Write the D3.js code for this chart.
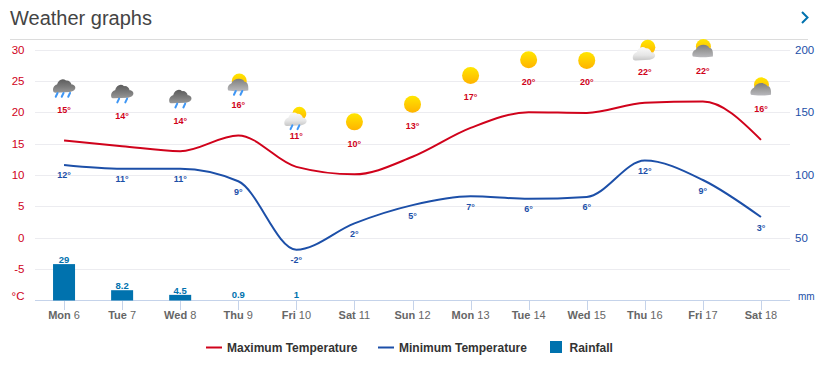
<!DOCTYPE html>
<html><head><meta charset="utf-8">
<script src="https://cdn.jsdelivr.net/npm/d3@7/dist/d3.min.js"></script>
<style>
html,body{margin:0;padding:0;background:#fff}
svg{display:block}
text{font-family:"Liberation Sans",Arial,sans-serif}
</style></head><body><svg id="c" width="826" height="377"></svg>
<script>
const days = ["Mon 6","Tue 7","Wed 8","Thu 9","Fri 10","Sat 11","Sun 12","Mon 13","Tue 14","Wed 15","Thu 16","Fri 17","Sat 18"];
const maxTemp = [15.5,14.6,13.8,16.3,11.3,10.1,12.9,17.5,20.0,19.9,21.5,21.7,15.6];
const minTemp = [11.6,11.0,11.0,9.0,-1.9,2.3,5.2,6.6,6.2,6.5,12.3,9.2,3.3];
const maxLabels = ["15°","14°","14°","16°","11°","10°","13°","17°","20°","20°","22°","22°","16°"];
const minLabels = ["12°","11°","11°","9°","-2°","2°","5°","7°","6°","6°","12°","9°","3°"];
const rain = [29,8.2,4.5,0.9,1,null,null,null,null,null,null,null,null];
const rainLabels = ["29","8.2","4.5","0.9","1","","","","","","","",""];
const icons = ["rain3","rain2","rain2","sunrainDark","sunrainLight","sun","sun","sun","sun","sun","sunLight","sunDark","sunDark"];
const tempTicks = [30,25,20,15,10,5,0,-5];
const rainTicks = [200,150,100,50];

const svg = d3.select("#c");
const x = d3.scaleBand().domain(days).range([35,790]);
const cx = d => x(d)+x.bandwidth()/2;
const y = d3.scaleLinear().domain([-10,30]).range([300.5,49.5]);
const yR = d3.scaleLinear().domain([0,200]).range([300.5,49.5]);
const RED="#d0021b", BLUE="#1c4fa8", BAR="#0072ae";

// header
svg.append("text").attr("x",10).attr("y",24.5).attr("font-size",20).attr("fill","#444").text("Weather graphs");
svg.append("line").attr("x1",10).attr("x2",808).attr("y1",39.5).attr("y2",39.5).attr("stroke","#dcdcdc");
svg.append("path").attr("d","M802 12 L807.5 17.5 L802 23").attr("fill","none").attr("stroke",BAR).attr("stroke-width",2);

// gridlines
svg.append("g").selectAll("line").data(tempTicks).join("line")
  .attr("x1",35).attr("x2",790).attr("y1",d=>Math.round(y(d))+.5).attr("y2",d=>Math.round(y(d))+.5)
  .attr("stroke","#ececf0");
svg.append("line").attr("x1",35).attr("x2",790).attr("y1",300.5).attr("y2",300.5).attr("stroke","#c5d3ea");
svg.append("g").selectAll("line").data(days).join("line")
  .attr("x1",d=>Math.round(cx(d))+.5).attr("x2",d=>Math.round(cx(d))+.5).attr("y1",300.5).attr("y2",310)
  .attr("stroke","#c5d3ea");

// axis labels
svg.append("g").selectAll("text").data(tempTicks).join("text")
  .attr("x",24.5).attr("y",d=>y(d)+4).attr("text-anchor","end").attr("font-size",11.5).attr("fill",RED).text(d=>d);
svg.append("text").attr("x",24.5).attr("y",300).attr("text-anchor","end").attr("font-size",11.5).attr("fill",RED).text("°C");
svg.append("g").selectAll("text").data(rainTicks).join("text")
  .attr("x",795).attr("y",d=>yR(d)+4).attr("font-size",11.5).attr("fill",BLUE).text(d=>d);
svg.append("text").attr("x",798).attr("y",299.5).attr("font-size",10).attr("fill",BLUE).text("mm");

const tl = svg.append("g").selectAll("text").data(days).join("text")
  .attr("x",d=>cx(d)).attr("y",319).attr("text-anchor","middle").attr("font-size",11).attr("fill","#666");
tl.append("tspan").attr("font-weight","bold").text(d=>d.split(" ")[0]);
tl.append("tspan").text(d=>" "+d.split(" ")[1]);

// bars (amounts under 2 mm show only as a label in the reference)
const idx = days.map((d,i)=>i);
svg.append("g").selectAll("rect").data(idx.filter(i=>rain[i]!==null && rain[i]>=2)).join("rect")
  .attr("x",i=>cx(days[i])-11).attr("width",22)
  .attr("y",i=>yR(rain[i])).attr("height",i=>300.5-yR(rain[i])).attr("fill",BAR);
svg.append("g").selectAll("text").data(idx.filter(i=>rain[i]!==null)).join("text")
  .attr("x",i=>cx(days[i])).attr("y",i=>yR(rain[i])-1).attr("text-anchor","middle")
  .attr("font-size",9.5).attr("font-weight","bold").attr("fill",BAR).text(i=>rainLabels[i]);

// lines
const line = d3.line().x((d,i)=>cx(days[i])).y(d=>y(d)).curve(d3.curveMonotoneX);
svg.append("path").datum(minTemp).attr("d",line).attr("fill","none").attr("stroke",BLUE).attr("stroke-width",2);
svg.append("path").datum(maxTemp).attr("d",line).attr("fill","none").attr("stroke",RED).attr("stroke-width",2);

// labels
svg.append("g").selectAll("text").data(idx).join("text")
  .attr("x",i=>cx(days[i])).attr("y",i=>y(minTemp[i])+13.5).attr("text-anchor","middle")
  .attr("font-size",9).attr("font-weight","bold").attr("fill",BLUE).text(i=>minLabels[i]);
svg.append("g").selectAll("text").data(idx).join("text")
  .attr("x",i=>cx(days[i])).attr("y",i=>y(maxTemp[i])-27.5).attr("text-anchor","middle")
  .attr("font-size",9).attr("font-weight","bold").attr("fill",RED).text(i=>maxLabels[i]);

// icon defs
const defs = svg.append("defs");
function grad(id,stops){const g=defs.append("linearGradient").attr("id",id).attr("x1",0).attr("x2",0).attr("y1",0).attr("y2",1);
  stops.forEach(s=>g.append("stop").attr("offset",s[0]).attr("stop-color",s[1]));}
grad("sunG",[[0,"#ffe600"],[1,"#ffb300"]]);
grad("darkG",[[0,"#5c5c5c"],[.55,"#7b7b7b"],[1,"#989898"]]);
grad("midG",[[0,"#7e7e7e"],[.5,"#9c9c9c"],[1,"#b9b9bd"]]);
grad("lightG",[[0,"#fafafa"],[.6,"#e6e6e6"],[1,"#c6c6c6"]]);

const LUMPY="M-10.5 6.5 C-12 3 -10 -0.5 -7 -1 C-6 -5.5 -1.5 -8 2 -5 C4.5 -5.5 7 -3.5 7.5 -1 C10.5 -1 12 1.5 11 3.5 C10 5.5 8 6 6 6.5 L-8 7.2 C-9 7.2 -10 7 -10.5 6.5 Z";
const DOME="M-10 6 C-11.5 3 -9.5 0 -7 -1 C-5 -6.5 4 -7.5 6.5 -2.5 C9 -2.5 10.5 0 10 6 C6 7 -6 7 -10 6 Z";
function cloud(g,fill,ox,oy,shape){
  g.append("path").attr("transform",`translate(${ox},${oy})`).attr("fill",`url(#${fill})`).attr("d",shape||LUMPY);
}
function drops(g,xs,oy){
  g.append("g").selectAll("path").data(xs).join("path")
    .attr("d",d=>`M${d+1} ${oy} L${d-.8} ${oy+3.8}`).attr("stroke","#3f97f5").attr("stroke-width",2).attr("stroke-linecap","round");
}
function sun(g,ox,oy,r){g.append("circle").attr("cx",ox).attr("cy",oy).attr("r",r).attr("fill","url(#sunG)");}
const draw = {
  rain3(g){cloud(g,"darkG",0,0);drops(g,[-7.5,-1.5,5],7.5);},
  rain2(g){cloud(g,"darkG",0,0);drops(g,[-4,4],7.5);},
  sun(g){sun(g,0,0,8.5);},
  sunrainDark(g){sun(g,1,-3.5,7.5);cloud(g,"midG",0,0,DOME);drops(g,[-3.5,3],6.5);},
  sunrainLight(g){sun(g,3,-4,7);cloud(g,"lightG",-1,1);drops(g,[-5,2],7.5);},
  sunLight(g){sun(g,3,-4,7.5);cloud(g,"lightG",-1,2);},
  sunDark(g){sun(g,0.5,-4,7.5);cloud(g,"midG",0,0,DOME);}
};
// icon vertical offset above the max temperature point, per icon type
const iconGap = {rain3:55,rain2:55,sunrainDark:51,sunrainLight:49,sun:52.5,sunLight:51.5,sunDark:51};
const ig = svg.append("g");
idx.forEach(i=>{
  const g=ig.append("g").attr("transform",`translate(${cx(days[i])},${y(maxTemp[i])-iconGap[icons[i]]})`);
  draw[icons[i]](g);
});

// legend
const lg = svg.append("g");
const legend = [{t:"Maximum Temperature",c:RED,x:206,k:"l"},{t:"Minimum Temperature",c:BLUE,x:378,k:"l"},{t:"Rainfall",c:BAR,x:550,k:"r"}];
legend.forEach(l=>{
  if(l.k==="l"){lg.append("line").attr("x1",l.x).attr("x2",l.x+16).attr("y1",347.5).attr("y2",347.5).attr("stroke",l.c).attr("stroke-width",2);
    lg.append("text").attr("x",l.x+21).attr("y",351.5).attr("font-size",12).attr("font-weight","bold").attr("fill","#333").text(l.t);}
  else{lg.append("rect").attr("x",l.x).attr("y",341).attr("width",12).attr("height",12).attr("fill",l.c);
    lg.append("text").attr("x",l.x+19.5).attr("y",351.5).attr("font-size",12).attr("font-weight","bold").attr("fill","#333").text(l.t);}
});
</script></body></html>
